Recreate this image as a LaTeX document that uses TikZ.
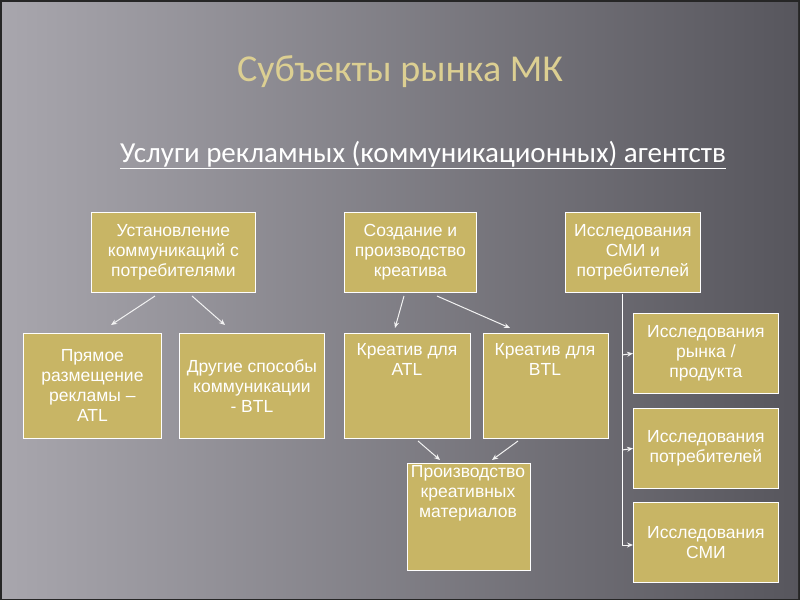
\documentclass[tikz,border=0pt]{standalone}
\usepackage{fontspec}
\setmainfont{Liberation Sans}
\newfontfamily\carl{Carlito}
\usetikzlibrary{arrows.meta}
\definecolor{boxf}{HTML}{C8B565}
\definecolor{titc}{HTML}{DCCF92}
\definecolor{bgl}{HTML}{A8A6AD}
\definecolor{bgr}{HTML}{57565D}
\tikzset{
 bx/.style={draw=white,line width=0.8pt,fill=boxf,text=white,align=center,font=\fontsize{17.5}{20}\selectfont,inner sep=1pt},
 bt/.style={anchor=north,text=white,align=center,font=\fontsize{17.5}{20}\selectfont,inner sep=1pt},
 ar/.style={draw=white!90!gray,line width=1pt,-{Stealth[length=6pt,width=5pt]}}
}
\begin{document}
\begin{tikzpicture}[x=1pt,y=-1pt]
\useasboundingbox (0,0) rectangle (800,600);
\fill[black!85] (0,0) rectangle (800,600);
\shade[shading angle=-70,left color=bgl,right color=bgr] (2,2) rectangle (798,598);
\node[font=\carl\fontsize{38}{44}\selectfont,text=titc] (t) at (400,72) {Субъекты рынка МК};
\node[font=\carl\fontsize{29}{34}\selectfont,text=white] (s) at (423,155) {\underline{Услуги рекламных (коммуникационных) агентств}};
\node[bx,minimum width=164,minimum height=80,anchor=north west] (A) at (91,212) {Установление\\коммуникаций с\\ потребителями};
\node[bx,minimum width=132,minimum height=80,anchor=north west] (B) at (344,212) {Создание и\\производство\\креатива};
\node[bx,minimum width=135,minimum height=80,anchor=north west] (C) at (565,212) {Исследования\\СМИ и\\потребителей};
\node[bx,minimum width=138,minimum height=105,anchor=north west] (D) at (23,333) {Прямое\\размещение\\рекламы –\\ATL};
\node[bx,minimum width=145,minimum height=105,anchor=north west] (E) at (179,333) {Другие способы\\коммуникации\\- BTL};
\node[bx,minimum width=126,minimum height=105,anchor=north west] (F) at (344,333) {};
\node[bt] (Ft) at (407,342) {Креатив для\\ATL};
\node[bx,minimum width=125,minimum height=105,anchor=north west] (G) at (483,333) {};
\node[bt] (Gt) at (545,342) {Креатив для\\BTL};
\node[bx,minimum width=123,minimum height=107,anchor=north west] (H) at (407,463) {};
\node[bt] (Ht) at (468,464) {Производство\\креативных\\материалов};
\node[bx,minimum width=145,minimum height=80,anchor=north west] (I) at (633,313) {Исследования\\рынка /\\продукта};
\node[bx,minimum width=145,minimum height=80,anchor=north west] (J) at (633,408) {Исследования\\потребителей};
\node[bx,minimum width=145,minimum height=80,anchor=north west] (K) at (633,502) {Исследования\\СМИ};
\coordinate (a1) at (155,296); \coordinate (a2) at (111,325);
\coordinate (a3) at (192,296); \coordinate (a4) at (225,325);
\draw[ar] (a1) -- (a2); \draw[ar] (a3) -- (a4);
\coordinate (b1) at (404,296); \coordinate (b2) at (395,328);
\coordinate (b3) at (437,296); \coordinate (b4) at (510,328);
\draw[ar] (b1) -- (b2); \draw[ar] (b3) -- (b4);
\coordinate (f1) at (418,441); \coordinate (f2) at (440,460);
\coordinate (g1) at (518,441); \coordinate (g2) at (492,460);
\draw[ar] (f1) -- (f2); \draw[ar] (g1) -- (g2);
\coordinate (c1) at (622,294); \coordinate (c2) at (622,545);
\draw[white,line width=1pt] (c1) -- (c2);
\draw[ar] (622,355) -- (I.west);
\draw[ar] (622,450) -- (J.west);
\draw[ar] (c2) -- (K.west|-c2);
\end{tikzpicture}
\end{document}
